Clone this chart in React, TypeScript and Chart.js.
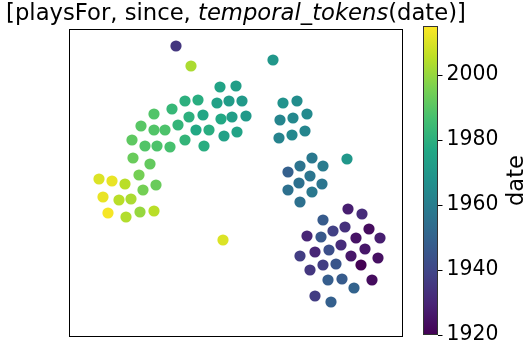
import React, { useEffect, useRef } from "react";
import { Chart, registerables } from "chart.js";

Chart.register(...registerables);

// embedding coordinates (arbitrary units) and the year of each point
const xs: number[] = [
  107, 122, 151, 167, 116, 129, 148, 160, 173, 85, 103, 120, 134, 152, 163, 177,
  72, 85, 96, 109, 127, 140, 155, 168, 63, 76, 88, 101, 116, 135, 64, 81,
  30, 43, 56, 70, 87, 74, 34, 50, 62, 39, 57, 71, 85, 154,
  204, 214, 228, 211, 224, 238, 210, 223, 236, 278,
  243, 231, 254, 219, 241, 230, 253, 219, 243, 231, 279, 293, 254,
  238, 252, 264, 276, 287, 300, 311, 231, 246, 260, 272, 282, 296, 309,
  241, 254, 267, 292, 303, 259, 273, 285, 246, 262, 286,
];
const ys: number[] = [
  291, 271, 250, 251, 236, 237, 234, 236, 236, 223, 228, 220, 222, 218, 220, 221,
  211, 207, 207, 212, 207, 207, 201, 205, 197, 191, 191, 190, 197, 191, 179, 173,
  158, 156, 153, 162, 152, 147, 140, 137, 138, 124, 120, 125, 126, 97,
  277, 234, 236, 217, 219, 223, 199, 202, 206, 178,
  179, 171, 171, 165, 161, 154, 153, 147, 145, 135, 128, 123, 117,
  101, 100, 106, 110, 99, 108, 99, 81, 85, 87, 92, 81, 88, 79,
  67, 72, 73, 72, 57, 57, 58, 49, 41, 35,
];
const years: number[] = [
  1935, 2003, 1975, 1973, 1980, 1979, 1974, 1972, 1971, 1989, 1983, 1980, 1976, 1977, 1973, 1971,
  1990, 1989, 1988, 1982, 1977, 1979, 1974, 1975, 1991, 1989, 1988, 1987, 1982, 1979, 1993, 1992,
  2010, 2012, 2005, 1995, 1993, 1995, 2012, 2005, 2003, 2014, 2004, 2000, 2005, 2010,
  1970, 1968, 1966, 1963, 1964, 1965, 1962, 1964, 1963, 1970,
  1958, 1956, 1959, 1949, 1957, 1955, 1957, 1955, 1958, 1955, 1928, 1932, 1947,
  1930, 1946, 1938, 1933, 1925, 1923, 1928, 1937, 1930, 1943, 1932, 1926, 1926, 1924,
  1935, 1937, 1945, 1920, 1923, 1948, 1947, 1950, 1937, 1949, 1920,
];
const colorbarTicks: number[] = [1920, 1940, 1960, 1980, 2000];
const yearMin = 1920;
const yearMax = 2015;
const titleParts = ["[playsFor, since, ", "temporal_tokens", "(date)]"];
const colorbarLabel = "date";

const viridisStops = [
  "#440154", "#482475", "#414487", "#355f8d", "#2a788e", "#21918c",
  "#22a884", "#44bf70", "#7ad151", "#bddf26", "#fde725",
];

function hexToRgb(h: string): number[] {
  return [parseInt(h.slice(1, 3), 16), parseInt(h.slice(3, 5), 16), parseInt(h.slice(5, 7), 16)];
}
function viridis(t: number): string {
  const c = Math.max(0, Math.min(1, t)) * (viridisStops.length - 1);
  const i = Math.min(Math.floor(c), viridisStops.length - 2);
  const f = c - i;
  const a = hexToRgb(viridisStops[i]);
  const b = hexToRgb(viridisStops[i + 1]);
  const r = a.map((v, k) => Math.round(v + (b[k] - v) * f));
  return `rgb(${r[0]},${r[1]},${r[2]})`;
}

const FONT = "'DejaVu Sans', sans-serif";

export default function App() {
  const ref = useRef<HTMLCanvasElement | null>(null);
  useEffect(() => {
    if (!ref.current) return;
    const pts = xs.map((x, i) => ({ x, y: ys[i] }));
    const colors = years.map((y) => viridis((y - yearMin) / (yearMax - yearMin)));

    const deco = {
      id: "deco",
      afterDraw(chart: any) {
        const ctx = chart.ctx as CanvasRenderingContext2D;
        const a = chart.chartArea;
        ctx.save();
        // axes frame
        ctx.strokeStyle = "#000";
        ctx.lineWidth = 1;
        ctx.strokeRect(a.left + 0.5, a.top + 0.5, a.right - a.left - 1, a.bottom - a.top - 1);

        // title
        ctx.fillStyle = "#000";
        ctx.textBaseline = "alphabetic";
        const fN = `22.7px ${FONT}`;
        const fI = `italic 22.7px ${FONT}`;
        const fonts = [fN, fI, fN];
        let total = 0;
        const widths = titleParts.map((p, i) => {
          ctx.font = fonts[i];
          const w = ctx.measureText(p).width;
          total += w;
          return w;
        });
        let tx = (a.left + a.right) / 2 - total / 2;
        titleParts.forEach((p, i) => {
          ctx.font = fonts[i];
          ctx.textAlign = "left";
          ctx.fillText(p, tx, 20);
          tx += widths[i];
        });

        // colorbar
        const cbL = 423, cbR = 438, cbT = 26, cbB = 335;
        const g = ctx.createLinearGradient(0, cbB, 0, cbT);
        viridisStops.forEach((c, i) => g.addColorStop(i / (viridisStops.length - 1), c));
        ctx.fillStyle = g;
        ctx.fillRect(cbL, cbT, cbR - cbL, cbB - cbT);
        ctx.strokeStyle = "#333";
        ctx.lineWidth = 1;
        ctx.strokeRect(cbL + 0.5, cbT + 0.5, cbR - cbL - 1, cbB - cbT - 1);
        ctx.font = `20.4px ${FONT}`;
        ctx.fillStyle = "#000";
        ctx.textAlign = "left";
        ctx.textBaseline = "middle";
        colorbarTicks.forEach((v) => {
          const y = cbB - ((v - yearMin) / (yearMax - yearMin)) * (cbB - cbT);
          ctx.beginPath();
          ctx.strokeStyle = "#000";
          ctx.moveTo(cbR, Math.round(y) + 0.5);
          ctx.lineTo(cbR + 4.5, Math.round(y) + 0.5);
          ctx.stroke();
          ctx.fillText(String(v), 446.5, y);
        });
        ctx.font = `22.7px ${FONT}`;
        ctx.translate(523, (cbT + cbB) / 2);
        ctx.rotate(-Math.PI / 2);
        ctx.textAlign = "center";
        ctx.textBaseline = "alphabetic";
        ctx.fillText(colorbarLabel, 0, 0);
        ctx.restore();
      },
    };

    const chart = new Chart(ref.current, {
      type: "scatter",
      data: {
        datasets: [
          {
            data: pts,
            pointBackgroundColor: colors,
            pointBorderColor: colors,
            pointBorderWidth: 0,
            pointRadius: 5.6,
            pointHoverRadius: 5.6,
          },
        ],
      },
      options: {
        responsive: false,
        animation: false,
        events: [],
        layout: { padding: { left: 69, top: 29, right: 121, bottom: 9 } },
        plugins: { legend: { display: false }, tooltip: { enabled: false }, title: { display: false } },
        scales: {
          x: { type: "linear", min: 0, max: 334, display: false },
          y: { type: "linear", min: 0, max: 308, display: false },
        },
      },
      plugins: [deco],
    });
    return () => chart.destroy();
  }, []);
  return (
    <div style={{ position: "fixed", left: 0, top: 0, width: 524, height: 346, background: "#fff" }}>
      <canvas ref={ref} width={524} height={346} style={{ width: 524, height: 346, display: "block" }} />
    </div>
  );
}
